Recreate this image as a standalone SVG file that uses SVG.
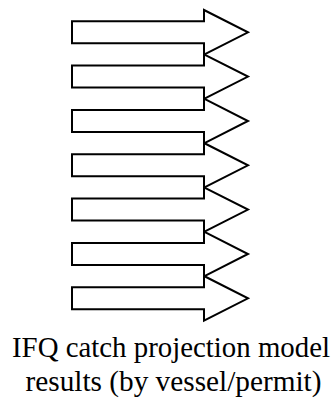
<svg xmlns="http://www.w3.org/2000/svg" xmlns:xlink="http://www.w3.org/1999/xlink" width="336" height="400" viewBox="0 0 336 400">
  <style>
    .arrow { fill: #ffffff; stroke: #000000; stroke-width: 2; stroke-linejoin: miter; }
  </style>
  <defs>
    <!-- block arrow, tip at y = 0 -->
    <path id="blockArrow" class="arrow" d="M72,-11 H204 V-22.3 L248,0 L204,22.3 V11 H72 Z"/>
  </defs>
  <rect width="336" height="400" fill="#ffffff"/>
  <g id="arrows">
    <use xlink:href="#blockArrow" transform="translate(0,32.3)"/>
    <use xlink:href="#blockArrow" transform="translate(0,76.6)"/>
    <use xlink:href="#blockArrow" transform="translate(0,121)"/>
    <use xlink:href="#blockArrow" transform="translate(0,165.3)"/>
    <use xlink:href="#blockArrow" transform="translate(0,209.6)"/>
    <use xlink:href="#blockArrow" transform="translate(0,254)"/>
    <use xlink:href="#blockArrow" transform="translate(0,298.3)"/>
  </g>
  <g id="caption" font-family="'Liberation Serif', 'Times New Roman', 'DejaVu Serif', serif" font-size="29" fill="#000000">
    <text x="12" y="356.7" textLength="318" lengthAdjust="spacingAndGlyphs">IFQ catch projection model</text>
    <text x="25.5" y="391" textLength="296" lengthAdjust="spacingAndGlyphs">results (by vessel/permit)</text>
  </g>
</svg>
